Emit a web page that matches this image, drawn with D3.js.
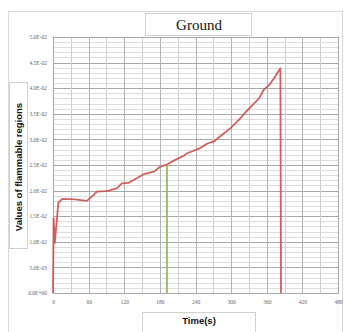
<!DOCTYPE html>
<html><head><meta charset="utf-8">
<script src="https://cdn.jsdelivr.net/npm/d3@7"></script>
<style>body{margin:0;background:#fff}svg{display:block}</style>
</head><body>
<script>
const title = "Ground";
const xTitle = "Time(s)";
const yTitle = "Values of flammable regions";
const xTicks = [0, 60, 120, 180, 240, 300, 360, 420, 480];
const yTicks = [0, 0.005, 0.01, 0.015, 0.02, 0.025, 0.03, 0.035, 0.04, 0.045, 0.05];
const yTickLabels = ["0.0E+00","5.0E-03","1.0E-02","1.5E-02","2.0E-02","2.5E-02","3.0E-02","3.5E-02","4.0E-02","4.5E-02","5.0E-02"];
const groundTime = [0, 1, 3, 9, 14, 17, 37, 57, 68, 74, 88, 94, 108, 116, 127, 141, 153, 170, 181, 192, 206, 220, 226, 248, 260, 271, 285, 299, 313, 325, 336, 347, 355, 364, 372, 383, 384];
const groundValue = [0, 0.0146, 0.0098, 0.0176, 0.0182, 0.0184, 0.0183, 0.0180, 0.0191, 0.0198, 0.0199, 0.0200, 0.0205, 0.0214, 0.0215, 0.0224, 0.0232, 0.0237, 0.0247, 0.0251, 0.0260, 0.0268, 0.0273, 0.0283, 0.0292, 0.0296, 0.0309, 0.0322, 0.0338, 0.0354, 0.0367, 0.0380, 0.0397, 0.0406, 0.0419, 0.0439, 0];
const markerTime = [192, 192];
const markerValue = [0, 0.0251];

const W = 345, H = 332;
const svg = d3.select("body").append("svg").attr("width", W).attr("height", H);
const m = {l: 53, r: 338, t: 37, b: 293};
const x = d3.scaleLinear().domain([0, 480]).range([m.l, m.r]);
const y = d3.scaleLinear().domain([0, 0.05]).range([m.b, m.t]);

// outer border
svg.append("rect").attr("x", 8.5).attr("y", 11.5).attr("width", 334).attr("height", 325)
  .attr("fill", "#fff").attr("stroke", "#d9d9d9");

// minor horizontal grid
const g = svg.append("g");
g.selectAll(".hmin").data(d3.range(0, 51)).join("line")
  .attr("x1", m.l).attr("x2", m.r)
  .attr("y1", d => Math.round(y(d * 0.001)) + 0.5).attr("y2", d => Math.round(y(d * 0.001)) + 0.5)
  .attr("stroke", d => d % 5 === 0 ? "#a8a8a8" : "#dedede").attr("stroke-width", 1);
// vertical grid every 30 s
g.selectAll(".v").data(d3.range(0, 481, 30)).join("line")
  .attr("y1", m.t).attr("y2", m.b)
  .attr("x1", d => Math.round(x(d)) + 0.5).attr("x2", d => Math.round(x(d)) + 0.5)
  .attr("stroke", d => d % 60 === 0 ? "#b4b4b4" : "#d0d0d0");
svg.append("rect").attr("x", m.l + 0.5).attr("y", m.t + 0.5).attr("width", m.r - m.l).attr("height", m.b - m.t)
  .attr("fill", "none").attr("stroke", "#a8a8a8");

// axes labels
const xAxis = d3.axisBottom(x).tickValues(xTicks).tickSize(0).tickPadding(7);
const ax = svg.append("g").attr("transform", `translate(0,${m.b})`).call(xAxis);
ax.select(".domain").remove();
ax.selectAll("text").attr("font-family", "Liberation Serif, serif").attr("font-size", 5.5).attr("fill", "#666");
const yAxis = d3.axisLeft(y).tickValues(yTicks).tickSize(0).tickPadding(6)
  .tickFormat((d, i) => yTickLabels[i]);
const ay = svg.append("g").attr("transform", `translate(${m.l},0)`).call(yAxis);
ay.select(".domain").remove();
ay.selectAll("text").attr("font-family", "Liberation Serif, serif").attr("font-size", 5.5).attr("fill", "#666");

// series
const line = d3.line().x(d => x(d[0])).y(d => y(d[1]));
svg.append("path").datum(markerTime.map((t, i) => [t, markerValue[i]]))
  .attr("d", line).attr("fill", "none").attr("stroke", "#9bbb59").attr("stroke-width", 1.8);
svg.append("path").datum(groundTime.map((t, i) => [t, groundValue[i]]))
  .attr("d", line).attr("fill", "none").attr("stroke", "#c9504d").attr("stroke-width", 1.8)
  .attr("stroke-linejoin", "round").attr("stroke-opacity", 0.9);

// title box
svg.append("rect").attr("x", 145.5).attr("y", 13.5).attr("width", 106).attr("height", 22)
  .attr("fill", "#fff").attr("stroke", "#d0d0d0");
svg.append("text").attr("x", 199).attr("y", 30).attr("text-anchor", "middle")
  .attr("font-family", "Liberation Serif, serif").attr("font-size", 15).attr("fill", "#111").text(title);

// x title box
svg.append("rect").attr("x", 142.5).attr("y", 312.5).attr("width", 113).attr("height", 25)
  .attr("fill", "#fff").attr("stroke", "#d0d0d0");
svg.append("text").attr("x", 199).attr("y", 324).attr("text-anchor", "middle")
  .attr("font-family", "Liberation Sans, Arial, sans-serif").attr("font-weight", "bold")
  .attr("font-size", 9.5).attr("fill", "#111").text(xTitle);

// y title box
svg.append("rect").attr("x", 9.5).attr("y", 82.5).attr("width", 18).attr("height", 166)
  .attr("fill", "#fff").attr("stroke", "#d0d0d0");
svg.append("text").attr("transform", "translate(21.5,167) rotate(-90)").attr("text-anchor", "middle")
  .attr("font-family", "Liberation Sans, Arial, sans-serif").attr("font-weight", "bold")
  .attr("font-size", 9.5).attr("fill", "#111").text(yTitle);
</script>
</body></html>
